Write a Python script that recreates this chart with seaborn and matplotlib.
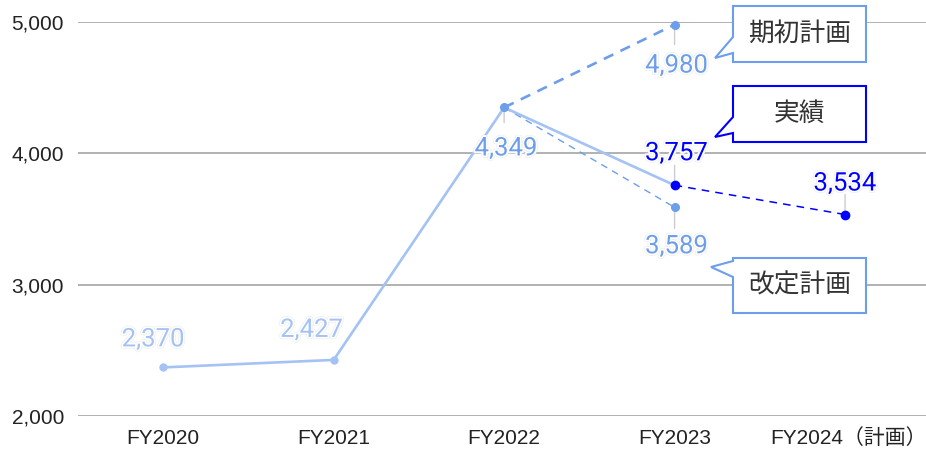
import matplotlib
matplotlib.use("Agg")
import matplotlib.pyplot as plt
import matplotlib.patheffects as pe
import matplotlib.transforms as mtransforms
from matplotlib.patches import Polygon
import seaborn as sns
import pandas as pd

# ---- data ----
years = ["FY2020", "FY2021", "FY2022", "FY2023", "FY2024（計画）"]
actual = [2370, 2427, 4349, 3757]          # 実績 FY2020-FY2023
initial_plan = [4349, 4980]                # 期初計画 FY2022 -> FY2023
revised_plan = [4349, 3589]                # 改定計画 FY2022 -> FY2023
next_plan = [3757, 3534]                   # FY2023 実績 -> FY2024 計画
yticks = [2000, 3000, 4000, 5000]

LIGHT = "#a4c2f4"
MID = "#6d9eeb"
DARK = "#0000ff"
GRID = "#ababab"
TXT = "#222222"

sns.set_style("white")
plt.rcParams["font.family"] = ["Liberation Sans", "Noto Sans CJK JP"]

W, H = 926, 449
fig = plt.figure(figsize=(W / 100, H / 100), dpi=100)
ax = fig.add_axes([78 / W, 33 / H, (W - 78) / W, (416 - 22) / H])

pos = list(range(len(years)))
df_actual = pd.DataFrame({"x": pos[:4], "v": actual})
df_init = pd.DataFrame({"x": pos[2:4], "v": initial_plan})
df_rev = pd.DataFrame({"x": pos[2:4], "v": revised_plan})
df_next = pd.DataFrame({"x": pos[3:5], "v": next_plan})

for y in yticks:
    ax.axhline(y, color=GRID, lw=1.3, zorder=0)

sns.lineplot(data=df_rev, x="x", y="v", ax=ax, color=MID, lw=1.0,
             linestyle=(0, (5, 4)), zorder=2)
sns.lineplot(data=df_init, x="x", y="v", ax=ax, color=MID, lw=1.9,
             linestyle=(0, (4, 3)), zorder=2)
sns.lineplot(data=df_next, x="x", y="v", ax=ax, color=DARK, lw=1.1,
             linestyle=(0, (5, 4)), zorder=2)
sns.lineplot(data=df_actual, x="x", y="v", ax=ax, color=LIGHT, lw=1.9, zorder=3)

# point markers
ax.plot(pos[:2], actual[:2], "o", color=LIGHT, ms=5, zorder=4, clip_on=False)
ax.plot([2], [actual[2]], "o", color=MID, ms=5.5, zorder=4, clip_on=False)
ax.plot([3], [initial_plan[1]], "o", color=MID, ms=5.5, zorder=4, clip_on=False)
ax.plot([3], [revised_plan[1]], "o", color=MID, ms=5.5, zorder=4, clip_on=False)
ax.plot([3], [actual[3]], "o", color=DARK, ms=6, zorder=5, clip_on=False)
ax.plot([4], [next_plan[1]], "o", color=DARK, ms=6, zorder=5, clip_on=False)

halo = [pe.Stroke(linewidth=3.2, foreground="#ececec"),
        pe.Stroke(linewidth=2.3, foreground="white"),
        pe.Normal()]


def label(x, v, color, dx, dy, lead=None):
    if lead is not None:
        ax.annotate("", xy=(x, v), xytext=(0, lead), textcoords="offset pixels",
                    arrowprops=dict(arrowstyle="-", color="#cccccc", lw=1.0,
                                    shrinkA=0, shrinkB=3), zorder=3)
    ax.annotate(f"{v:,}", xy=(x, v), xytext=(dx, dy), textcoords="offset pixels",
                ha="center", va="center", color=color, fontsize=18.5,
                family=["Roboto", "DejaVu Sans"], path_effects=halo, zorder=6)


label(0, actual[0], LIGHT, -10, 28)
label(1, actual[1], LIGHT, -22, 30)
label(2, actual[2], MID, 2, -41, lead=-15)
label(3, initial_plan[1], MID, 2, -41, lead=-20)
label(3, actual[3], DARK, 2, 32, lead=20)
label(3, revised_plan[1], MID, 2, -39, lead=-21)
label(4, next_plan[1], DARK, 0, 31, lead=20)

ax.set_xlim(-0.5, 4.475)
ax.set_ylim(2000, 5000)
ax.set_xticks(pos)
ax.set_xticklabels(years)
ax.set_yticks(yticks)
ax.set_yticklabels([f"{t:,}" for t in yticks])
ax.tick_params(axis="both", length=0, labelsize=15, labelcolor=TXT)
ax.tick_params(axis="x", pad=9)
ax.tick_params(axis="y", pad=10)
last = ax.get_xticklabels()[-1]
last.set_transform(last.get_transform() +
                   mtransforms.ScaledTranslation(0.03, 0, fig.dpi_scale_trans))
ax.set_xlabel("")
ax.set_ylabel("")
for s in ax.spines.values():
    s.set_visible(False)


# callout boxes (pixel layout, y measured from top)
def callout(text, L, T, R, B, a1, a2, tip, edge):
    pts = [(L, T), (R, T), (R, B), (L, B), (L, a2), tip, (L, a1)]
    poly = Polygon([(px / W, 1 - py / H) for px, py in pts], closed=True,
                   transform=fig.transFigure, facecolor="white",
                   edgecolor=edge, lw=1.5, zorder=10)
    fig.add_artist(poly)
    fig.text((L + R) / 2 / W, 1 - (T + B) / 2 / H, text, ha="center",
             va="center", fontsize=18.5, color="#333333",
             family=["Noto Sans CJK JP"], zorder=11)


callout("期初計画", 733, 6, 866, 62, 37, 53, (715, 58), MID)
callout("実績", 733, 86, 866, 142, 117, 133, (715, 137), DARK)
callout("改定計画", 733, 258, 866, 313, 261, 277, (711, 267), MID)

fig.savefig("out.png", dpi=100, facecolor="white")
